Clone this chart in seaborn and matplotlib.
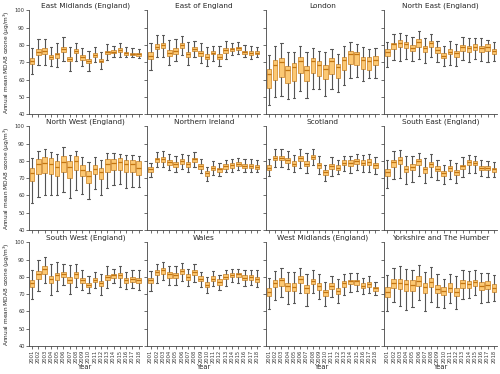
import pandas as pd
import matplotlib.pyplot as plt
import seaborn as sns

# Años y regiones
years = [str(y) for y in range(2001, 2019)]
regions = ['East Midlands (England)', 'East of England', 'London', 'North East (England)',
           'North West (England)', 'Northern Ireland', 'Scotland', 'South East (England)',
           'South West (England)', 'Wales', 'West Midlands (England)', 'Yorkshire and The Humber']

# Cada caja: (mínimo, Q1, mediana, Q3, máximo)
east_midlands = [(63, 69, 70.9, 72.4, 78), (68.6, 74.3, 76.2, 77.5, 83.4), (68.6, 74.9, 76.8, 78, 83.4),
                 (67.6, 71.8, 73.3, 74.3, 79), (67, 72.4, 74.7, 75.6, 81.3), (70.9, 76.2, 77.7, 79, 84.4),
                 (65.1, 70.5, 72, 73, 78.7), (71, 75.2, 76.6, 77.5, 81.3), (67.6, 71.4, 73, 74.1, 78.5),
                 (65.1, 69.5, 70.9, 72, 76.8), (70, 73, 74.3, 75.2, 79), (66.1, 70, 71, 72, 76.2),
                 (71.4, 74.7, 75.8, 76.8, 80.4), (72.8, 75.2, 76.2, 77.1, 79.6), (73.3, 76.2, 77.1, 78, 81.3),
                 (73, 74.3, 75.6, 75.8, 78.7), (73.3, 74.1, 75, 75.6, 78), (72.4, 73.7, 74.7, 75.4, 77.7)]
east_of_england = [(65.7, 71.8, 73.7, 76.2, 81.3), (73, 77.5, 79, 80.6, 85.7), (73, 78, 79.8, 81, 85.7),
                   (68.2, 73.7, 75.6, 77.1, 82.9), (70.5, 74.9, 76.8, 78, 83.2), (74.3, 78.5, 80, 81, 85.1),
                   (68.6, 73.3, 74.9, 76.2, 81.9), (73.3, 76.6, 77.9, 79, 82.5), (69.5, 73.9, 75.6, 76.8, 81.3),
                   (68, 71.8, 73.3, 74.9, 79), (70.9, 74.7, 75.6, 76.6, 79.4), (68, 71.8, 73.3, 74.9, 79.4),
                   (72, 75.6, 77.1, 78.5, 82.3), (74.3, 76.8, 77.7, 78.5, 81.3), (74.9, 77.1, 78.3, 79, 81.5),
                   (73, 74.9, 75.8, 76.8, 80), (71.8, 74.3, 75.2, 76.6, 79.4), (73, 74.5, 75.5, 76.5, 79)]
london = [(45.1, 55.2, 63.4, 66.1, 74.3), (49.9, 60, 68.6, 71.4, 79.6), (50.5, 61.3, 70.1, 72.4, 81),
          (48.6, 58.1, 65.3, 67.6, 75.8), (49.1, 59.4, 67, 69.5, 75.8), (53.3, 63.8, 70.9, 73.3, 79.6),
          (49.1, 59.4, 65.3, 68, 76.2), (54.3, 63.8, 70.9, 72.4, 78.5), (54.7, 61.9, 68.6, 70.5, 76.6),
          (50.3, 60.4, 66.1, 68.6, 75.8), (54.7, 63.4, 70.5, 72.4, 77.7), (52.8, 60.6, 67, 69.1, 74.7),
          (56.6, 65.3, 71.4, 73.3, 79.4), (61, 69, 74.9, 76.8, 81.5), (61.3, 68.6, 74.7, 76.2, 80.4),
          (59, 66.1, 71.4, 73.3, 79), (61, 65.3, 70.9, 72.8, 77.7), (60.6, 68.6, 71.4, 73.7, 78)]
north_east = [(67.2, 73.7, 75.8, 77.5, 81.9), (71.4, 77.5, 80.4, 81.3, 86.1), (71, 78.7, 81.3, 82.9, 87.2),
              (72, 78, 80.6, 81.5, 85.7), (70.5, 76.6, 78.5, 80, 84.4), (72, 79, 81.9, 83.2, 88),
              (69.5, 75.8, 78, 79.6, 83.8), (73.3, 79, 81.3, 82.5, 86.3), (69.9, 75.6, 77.1, 78.7, 82.5),
              (67.6, 72.4, 73.9, 75.2, 79.6), (68.6, 74.7, 76.2, 77.7, 82.3), (67.6, 73.3, 75.2, 76.6, 80.6),
              (71.4, 76.6, 78.7, 80, 84.4), (70, 76.2, 78, 79.6, 83.8), (72, 77.1, 79, 80.4, 84.2),
              (70.5, 76.2, 78.5, 79.6, 83.8), (70, 76.6, 79, 80.4, 82.9), (71, 74.7, 76.6, 77.7, 81.9)]
north_west = [(55.9, 68.1, 73.2, 76, 81.6), (59.3, 72.2, 78, 81.2, 85.6), (60, 72.8, 78.8, 82.2, 86.9),
              (60, 72.4, 78.4, 81.8, 85), (60.2, 71.3, 76.5, 79.7, 84.1), (62.1, 73.7, 79.4, 82.6, 87.8),
              (58.7, 70.4, 76.5, 79.7, 83.5), (63, 75, 79.9, 82.6, 85.9), (61, 71.5, 74.7, 77.5, 82.2),
              (57.8, 67.2, 71.5, 74.1, 79.4), (63.8, 72.2, 75.6, 77.9, 82.2), (60, 69.4, 73.4, 76, 80.3),
              (64.4, 73.7, 78.4, 80.9, 84.4), (66.2, 74.7, 78.8, 81.2, 84.4), (66.6, 74.7, 79.4, 81.6, 84.1),
              (64.4, 73.4, 78, 80.3, 83.5), (64.7, 73.7, 78, 80.3, 83.5), (64.7, 72, 76, 80, 83.1)]
northern_ireland = [(70.9, 73.7, 75.2, 76.5, 79), (76.5, 79.4, 80.9, 81.8, 85), (76.5, 79.4, 81.2, 82.2, 85.6),
                    (74.7, 77.9, 79.4, 80.3, 84.1), (73.7, 76.5, 78, 79.4, 82.7), (75.6, 78, 79.7, 80.9, 84.1),
                    (73.7, 76.5, 78, 79.4, 83.7), (76.5, 79.4, 80.9, 81.8, 85), (72.8, 75.6, 76.9, 78, 80.9),
                    (68.5, 71.5, 72.8, 74.3, 76.5), (71.9, 74.7, 76, 77.1, 79.9), (71.5, 73.7, 75.2, 76.2, 78.8),
                    (73.4, 75.6, 76.9, 78, 80.7), (73.7, 76.2, 77.5, 78.8, 81.2), (74.7, 76.9, 78.4, 79.4, 81.8),
                    (73.7, 76, 77.1, 78.4, 80.9), (73.4, 76, 77.1, 78.4, 80.9), (73.4, 75.2, 76.5, 77.5, 80.3)]
scotland = [(71.5, 74.7, 76.2, 77.5, 80.9), (76.5, 80.3, 81.8, 83.1, 86.9), (76.5, 80.3, 82, 83.1, 87.2),
            (75.2, 78.8, 80.3, 81.6, 85.6), (73.7, 76.9, 78.4, 79.7, 83.5), (76, 79.9, 81.8, 83.1, 86.9),
            (72.8, 76.9, 78.4, 79.7, 84.4), (77.5, 80.9, 82.2, 83.5, 87.2), (72.2, 76, 77.5, 79, 83.1),
            (68.5, 71.9, 73.4, 74.7, 77.5), (71.5, 75.2, 77.1, 78.4, 82.2), (72.2, 74.7, 76, 77.5, 80.7),
            (74.1, 77.5, 79, 80.3, 83.1), (72.8, 77.1, 78.8, 80.3, 83.1), (74.7, 78, 79.9, 81.2, 84.1),
            (73.7, 77.5, 78.8, 80.3, 83.5), (73.4, 77.5, 79.4, 80.9, 84.1), (72.5, 76, 77.5, 79, 82.5)]
south_east = [(64.4, 71.5, 73.7, 75.6, 80.3), (69.4, 76.5, 79.4, 80.3, 85.9), (70, 78, 80.7, 82.2, 86.5),
              (66.8, 73.7, 75.6, 77.1, 82.7), (67.7, 74.7, 76.5, 78, 82.7), (71.5, 77.9, 79.7, 80.9, 84.4),
              (67.2, 73.2, 75.2, 76.5, 81.6), (70.5, 76.5, 78, 79.4, 84.1), (69, 74.1, 75.6, 77.1, 80.3),
              (66.6, 71.5, 72.8, 74.1, 77.9), (69.6, 74.3, 76, 77.1, 80.3), (67.2, 71.9, 73.4, 74.7, 78.8),
              (70.9, 75.2, 76.9, 77.9, 82.2), (73.2, 77.5, 79.4, 80.3, 83.5), (72.8, 77.5, 78.8, 79.9, 82.7),
              (71.3, 74.7, 76, 77.1, 80.3), (70.9, 74.7, 76, 77.1, 79.9), (70.9, 73.7, 75.2, 76.2, 79.4)]
south_west = [(67.2, 74.3, 76.6, 78.5, 83.8), (72, 79, 81.9, 83.4, 89.9), (76.2, 81.9, 84.4, 86.1, 91.8),
              (69.5, 76.2, 78.7, 80.4, 87.2), (71.8, 78.1, 81, 82.3, 88.6), (75.2, 80, 81.9, 82.9, 87.2),
              (69.9, 76.2, 78.1, 80, 86.7), (74.3, 79.6, 81.5, 82.9, 87.6), (72.4, 76.6, 78.1, 79.6, 84.2),
              (70.5, 73.9, 75.2, 76.6, 80.4), (73.3, 76.8, 78.5, 79.6, 82.9), (69.5, 74.7, 76.2, 77.7, 81.9),
              (73.3, 78.1, 80, 81.3, 86.1), (76.2, 79.4, 81, 81.9, 84.8), (74.3, 79.4, 81, 82.3, 86.3),
              (73, 76.6, 78.1, 79.4, 82.9), (73.3, 77.1, 78.7, 80, 83.8), (72.4, 76.6, 78.5, 79.6, 83.8)]
wales = [(72, 76.6, 78.1, 79.6, 83.2), (76.6, 81, 82.9, 84.2, 87.6), (78.1, 81.9, 84.2, 85.3, 88.6),
         (75.6, 79.6, 81.5, 82.9, 86.1), (75.6, 79.4, 81.3, 82.5, 86.3), (77.5, 81.5, 83.4, 84.8, 88),
         (74.7, 78.5, 80, 81.5, 84.8), (77.1, 81.3, 82.9, 84.2, 87.2), (74.3, 77.5, 79, 80.4, 82.9),
         (70.5, 74.3, 75.6, 76.8, 80), (74.7, 77.7, 79, 80.4, 83.4), (72.4, 75.6, 77.1, 78.7, 81.3),
         (74.7, 78.7, 80, 81.5, 84.2), (77.1, 80, 81.3, 82.5, 84.8), (76.2, 80, 81.5, 82.5, 84.8),
         (74.7, 78.1, 79.4, 81, 83.8), (75.2, 78.5, 80, 81.3, 84.2), (74.3, 77.1, 78.7, 80, 84.2)]
west_midlands = [(61.3, 69, 71.4, 73.7, 79.6), (66.7, 73.9, 76.2, 78.1, 83.4), (68.6, 74.9, 78.1, 79.6, 85.1),
                 (64.4, 72, 74.7, 76.6, 82.9), (65.1, 71.8, 74.3, 76.6, 82.9), (70.5, 76.2, 79, 80.4, 85.3),
                 (63.4, 70.9, 73.3, 75.2, 81.9), (70.5, 75.8, 77.7, 79, 84.2), (67, 72.4, 74.7, 76.2, 81.9),
                 (63.2, 69, 71, 72.4, 76.8), (68.6, 73, 74.9, 76.2, 80.4), (65.1, 70.1, 72, 73.7, 79),
                 (69.5, 74.3, 76.2, 77.5, 81.5), (71.4, 75.8, 77.5, 78.5, 82.3), (72, 75.6, 77.5, 78.5, 82.3),
                 (70.1, 73.3, 74.9, 76.2, 79.4), (70.5, 74.3, 75.8, 77.1, 80.4), (69.5, 72, 73.3, 74.3, 77.1)]
yorkshire = [(60.4, 68.2, 71.4, 74.3, 81.3), (65.3, 73.3, 76.6, 79, 85.1), (63.4, 72.9, 76.6, 79, 86.1),
             (61, 72, 75.8, 78.5, 84.8), (62.3, 71.8, 75.6, 78.1, 83.8), (66.7, 74.7, 77.7, 80.4, 87),
             (60.4, 70.5, 73.9, 76.6, 82.9), (65.7, 74.3, 76.8, 79.6, 85.7), (62.3, 70.5, 73, 75.6, 81.9),
             (61.9, 69.5, 72, 74.3, 79), (64.8, 71.4, 73.7, 76.2, 81.5), (61.3, 69, 71.4, 73.7, 80.4),
             (67, 73.7, 76.2, 78.1, 83.8), (67.6, 73.7, 75.8, 77.7, 83.4), (69.5, 74.9, 76.8, 78.5, 83.8),
             (64.8, 72.4, 74.9, 77.1, 82.5), (65.3, 72.8, 75.6, 77.7, 82.3), (66.1, 71.4, 73.7, 75.8, 81.3)]

all_boxes = [east_midlands, east_of_england, london, north_east, north_west, northern_ireland,
             scotland, south_east, south_west, wales, west_midlands, yorkshire]

# Tabla larga: cinco puntos por caja (los cuartiles coinciden con los valores leídos)
rows = []
for region, boxes in zip(regions, all_boxes):
    for year, stats in zip(years, boxes):
        for v in stats:
            rows.append({'Region': region, 'Year': year, 'Ozone': v})
data = pd.DataFrame(rows)

sns.set_style('ticks')
plt.rcParams['font.family'] = ['DejaVu Sans']

fig, axes = plt.subplots(3, 4, figsize=(5, 3.74), dpi=100, sharex=True, sharey=True)
fig.subplots_adjust(left=0.058, right=0.994, top=0.972, bottom=0.075, wspace=0.05, hspace=0.12)

for ax, region in zip(axes.flat, regions):
    sub = data[data['Region'] == region]
    sns.boxplot(data=sub, x='Year', y='Ozone', order=years, ax=ax, whis=(0, 100), width=0.72,
                color='#fcc873', saturation=1, linewidth=0.6, linecolor='#d38f36',
                whiskerprops=dict(color='#555555', linewidth=0.8),
                capprops=dict(color='#555555', linewidth=0.8),
                medianprops=dict(color='#c47510', linewidth=0.9))
    ax.set_title(region, fontsize=5.3, pad=2)
    ax.set_ylim(40, 100)
    ax.set_yticks(range(40, 101, 10))
    ax.set_xlabel('')
    ax.set_ylabel('')
    ax.tick_params(axis='both', labelsize=3.7, length=2, width=0.5, pad=1, colors='#333333')
    for s in ax.spines.values():
        s.set_linewidth(0.6)
        s.set_color('#444444')
    sns.despine(ax=ax)

for ax in axes[:, 0]:
    ax.set_ylabel('Annual mean MDA8 ozone (μg/m$^3$)', fontsize=4.2, labelpad=2)
for ax in axes[-1, :]:
    ax.set_xlabel('Year', fontsize=4.8, labelpad=0.5)
    ax.tick_params(axis='x', labelrotation=90)

plt.savefig('out.png', dpi=100)
